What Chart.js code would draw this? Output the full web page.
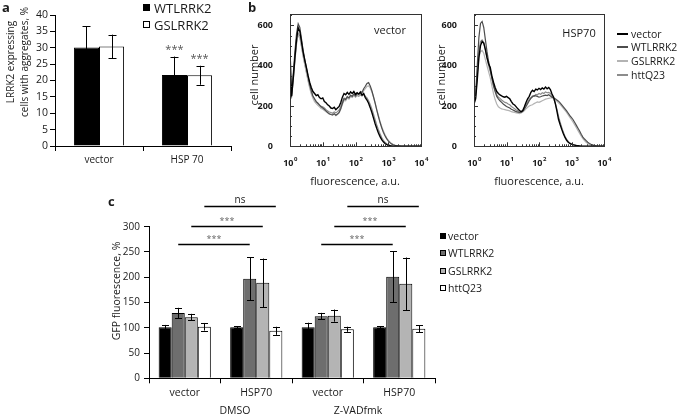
<!DOCTYPE html>
<html>
<head>
<meta charset="utf-8">
<script src="https://cdn.jsdelivr.net/npm/chart.js@4/dist/chart.umd.min.js"></script>
<style>
  html, body { margin: 0; padding: 0; background: #fff; }
  #fig { position: relative; width: 685px; height: 417px; overflow: hidden; font-family: 'Open Sans', sans-serif; color: #1a1a1a; }
  canvas { position: absolute; }
  .t { position: absolute; white-space: nowrap; line-height: 1; }
  .c { transform: translate(-50%, -50%); }
  .r { transform: translate(-50%, -50%) rotate(-90deg); }
  .ml { transform: translate(0, -50%); }
  .sq { position: absolute; box-sizing: border-box; border: 1px solid #000; }
  .ln { position: absolute; height: 2px; width: 11px; }
</style>
</head>
<body>
<div id="fig">
  <canvas id="chartA" width="240" height="175" style="left:0;top:0"></canvas>
  <canvas id="chartB1" width="192" height="190" style="left:240px;top:0"></canvas>
  <canvas id="chartB2" width="192" height="190" style="left:425px;top:0"></canvas>
  <canvas id="chartC" width="345" height="227" style="left:95px;top:190px"></canvas>

  <!-- panel a -->
  <div class="t" style="left:2px;top:1px;font-weight:bold;font-size:13px">a</div>
  <div class="t r" style="left:10px;top:62px;font-size:10px">LRRK2 expressing</div>
  <div class="t r" style="left:24px;top:62px;font-size:10px">cells with aggregates, %</div>
  <div class="sq" style="left:143px;top:4px;width:7px;height:7px;background:#000"></div>
  <div class="t ml" style="left:154px;top:8px;font-size:13px">WTLRRK2</div>
  <div class="sq" style="left:143px;top:21px;width:7px;height:7px;background:#fff"></div>
  <div class="t ml" style="left:154px;top:25px;font-size:13px">GSLRRK2</div>

  <!-- panel b -->
  <div class="t" style="left:248px;top:1px;font-weight:bold;font-size:13px">b</div>
  <div class="t r" style="left:253px;top:75px;font-size:11px">cell number</div>
  <div class="t r" style="left:440px;top:75px;font-size:11px">cell number</div>
  <div class="t c" style="left:355px;top:180px;font-size:11px">fluorescence, a.u.</div>
  <div class="t c" style="left:539px;top:180px;font-size:11px">fluorescence, a.u.</div>
  <div class="t c" style="left:390px;top:29px;font-size:11px">vector</div>
  <div class="t c" style="left:579px;top:32px;font-size:11px">HSP70</div>
  <div class="ln" style="left:617px;top:33px;background:#000"></div>
  <div class="t ml" style="left:631px;top:34px;font-size:10.5px">vector</div>
  <div class="ln" style="left:617px;top:46px;background:#4d4d4d"></div>
  <div class="t ml" style="left:631px;top:47px;font-size:10.5px">WTLRRK2</div>
  <div class="ln" style="left:617px;top:60px;background:#b3b3b3"></div>
  <div class="t ml" style="left:631px;top:61px;font-size:10.5px">GSLRRK2</div>
  <div class="ln" style="left:617px;top:74px;background:#8c8c8c"></div>
  <div class="t ml" style="left:631px;top:75px;font-size:10.5px">httQ23</div>

  <!-- panel c -->
  <div class="t" style="left:108px;top:195px;font-weight:bold;font-size:13px">c</div>
  <div class="t r" style="left:116px;top:291px;font-size:10.5px">GFP fluorescence, %</div>
  <div class="t c" style="left:235px;top:410px;font-size:10.5px">DMSO</div>
  <div class="t c" style="left:358px;top:410px;font-size:10.5px">Z-VADfmk</div>
  <div class="sq" style="left:440px;top:233px;width:6px;height:6px;background:#000"></div>
  <div class="t ml" style="left:448px;top:236px;font-size:10.5px">vector</div>
  <div class="sq" style="left:440px;top:250px;width:6px;height:6px;background:#6e6e6e"></div>
  <div class="t ml" style="left:448px;top:253px;font-size:10.5px">WTLRRK2</div>
  <div class="sq" style="left:440px;top:268px;width:6px;height:6px;background:#b4b4b4"></div>
  <div class="t ml" style="left:448px;top:271px;font-size:10.5px">GSLRRK2</div>
  <div class="sq" style="left:440px;top:285px;width:6px;height:6px;background:#fff"></div>
  <div class="t ml" style="left:448px;top:288px;font-size:10.5px">httQ23</div>
</div>

<script>
// ---------- panel a: aggregates ----------
var A_LABELS = ['vector', 'HSP 70'];
var A_WT = [30.1, 21.7];
var A_WT_ERR = [6.5, 5.6];
var A_GS = [30.4, 21.6];
var A_GS_ERR = [3.6, 2.9];
var A_STARS = ['', '***'];

// ---------- panel b: flow histograms (x in log10 units) ----------
var B_LOG = [0.00, 0.05, 0.10, 0.15, 0.20, 0.25, 0.30, 0.35, 0.40, 0.45,
             0.50, 0.55, 0.60, 0.65, 0.70, 0.75, 0.80, 0.85, 0.90, 0.95,
             1.00, 1.05, 1.10, 1.15, 1.20, 1.25, 1.30, 1.35, 1.40, 1.45,
             1.50, 1.55, 1.60, 1.65, 1.70, 1.75, 1.80, 1.85, 1.90, 1.95,
             2.00, 2.05, 2.10, 2.15, 2.20, 2.25, 2.30, 2.35, 2.40, 2.45,
             2.50, 2.55, 2.60, 2.65, 2.70, 2.75, 2.80, 2.85, 2.90, 2.95,
             3.00, 3.05, 3.10, 3.15, 3.20, 3.25, 3.30, 3.35, 3.40, 3.45,
             3.50, 3.55, 3.60, 3.65, 3.70, 3.75, 3.80, 3.85, 3.90, 3.95, 4.00];

var VEC_vector = [470, 250, 340, 440, 530, 588, 572, 520, 468, 428,
                  392, 352, 318, 292, 272, 262, 252, 256, 242, 236,
                  240, 222, 216, 206, 200, 190, 188, 194, 182, 190,
                  198, 218, 244, 262, 256, 268, 258, 270, 262, 272,
                  258, 266, 260, 268, 254, 262, 242, 230, 214, 192,
                  168, 140, 112, 88, 66, 48, 33, 22, 14, 9,
                  5, 3, 1, 0, 0, 0, 0, 0, 0, 0,
                  0, 0, 0, 0, 0, 0, 0, 0, 0, 0, 0];
var VEC_wt = [230, 260, 360, 470, 560, 608, 590, 535, 478, 432,
              390, 348, 306, 276, 250, 236, 222, 214, 204, 196,
              190, 184, 176, 168, 162, 158, 156, 162, 154, 160,
              168, 188, 214, 236, 232, 246, 240, 254, 248, 260,
              250, 262, 258, 272, 268, 286, 298, 312, 316, 300,
              276, 246, 214, 180, 148, 118, 92, 70, 52, 38,
              27, 18, 12, 8, 5, 3, 2, 1, 0, 0,
              0, 0, 0, 0, 0, 0, 0, 0, 0, 0, 0];
var VEC_gs = [235, 255, 340, 440, 520, 552, 540, 495, 448, 405,
              365, 325, 290, 260, 238, 222, 212, 204, 196, 188,
              184, 178, 172, 166, 160, 158, 155, 160, 152, 158,
              166, 184, 208, 228, 226, 240, 234, 246, 242, 252,
              244, 256, 252, 264, 262, 276, 286, 298, 300, 290,
              270, 244, 214, 182, 152, 124, 98, 76, 58, 42,
              30, 21, 14, 9, 6, 4, 2, 1, 0, 0,
              0, 0, 0, 0, 0, 0, 0, 0, 0, 0, 0];
var VEC_htt = [230, 245, 330, 425, 510, 560, 548, 500, 452, 410,
               372, 334, 298, 268, 246, 232, 222, 214, 206, 198,
               196, 190, 182, 176, 170, 168, 164, 170, 166, 172,
               180, 198, 222, 240, 236, 248, 240, 252, 246, 256,
               244, 252, 248, 256, 250, 258, 248, 240, 226, 208,
               186, 160, 132, 106, 82, 62, 44, 30, 20, 13,
               8, 5, 3, 1, 0, 0, 0, 0, 0, 0,
               0, 0, 0, 0, 0, 0, 0, 0, 0, 0, 0];

var HSP_vector = [210, 235, 330, 440, 500, 520, 512, 480, 440, 410,
                  392, 350, 318, 292, 272, 262, 255, 250, 246, 244,
                  248, 242, 236, 222, 210, 205, 196, 186, 178, 172,
                  178, 196, 218, 236, 248, 268, 278, 272, 284, 280,
                  288, 282, 290, 284, 294, 286, 292, 282, 260, 244,
                  214, 176, 134, 108, 84, 62, 44, 30, 20, 14,
                  11, 8, 6, 4, 3, 2, 1, 0, 0, 0,
                  0, 0, 0, 0, 0, 0, 0, 0, 0, 0, 0];
var HSP_wt = [220, 260, 400, 540, 610, 620, 590, 530, 470, 420,
              380, 340, 300, 272, 248, 236, 226, 218, 210, 204,
              198, 194, 190, 184, 180, 176, 172, 170, 168, 170,
              174, 184, 198, 212, 226, 238, 246, 252, 250, 248,
              244, 246, 250, 252, 254, 252, 256, 250, 244, 240,
              236, 230, 224, 216, 206, 196, 186, 176, 164, 152,
              142, 132, 118, 104, 90, 76, 60, 46, 36, 28,
              20, 14, 10, 7, 4, 2, 1, 0, 0, 0, 0];
var HSP_gs = [215, 240, 350, 440, 470, 476, 462, 430, 400, 370,
              340, 300, 262, 232, 210, 196, 190, 186, 184, 182,
              180, 178, 176, 172, 170, 168, 166, 164, 162, 166,
              170, 178, 186, 194, 200, 204, 206, 212, 216, 220,
              218, 222, 226, 230, 234, 236, 238, 240, 242, 240,
              232, 224, 216, 208, 198, 188, 178, 168, 156, 144,
              132, 120, 106, 92, 78, 64, 50, 38, 28, 20,
              14, 9, 6, 4, 2, 1, 0, 0, 0, 0, 0];
var HSP_htt = [225, 250, 360, 470, 520, 528, 515, 480, 440, 400,
               372, 336, 302, 278, 256, 244, 238, 230, 224, 218,
               216, 210, 206, 198, 192, 186, 180, 176, 170, 172,
               176, 190, 206, 220, 234, 242, 250, 248, 258, 256,
               262, 258, 266, 262, 270, 266, 268, 262, 250, 238,
               214, 184, 150, 120, 94, 70, 50, 35, 24, 16,
               11, 7, 5, 3, 2, 1, 0, 0, 0, 0,
               0, 0, 0, 0, 0, 0, 0, 0, 0, 0, 0];

var B_YTICKS = [0, 200, 400, 600];
var B_XDECADES = [0, 1, 2, 3, 4];

// ---------- panel c: GFP fluorescence ----------
var C_LABELS = ['vector', 'HSP70', 'vector', 'HSP70'];
var C_VECTOR = [101, 101, 101, 101];
var C_VECTOR_ERR = [4.6, 2, 9, 2];
var C_WT = [129, 197, 123, 201];
var C_WT_ERR = [10.5, 43, 6.5, 50];
var C_GS = [121, 189, 124, 187];
var C_GS_ERR = [6.6, 48, 12, 52];
var C_HTT = [102, 94, 97, 98];
var C_HTT_ERR = [7.5, 8, 5, 7];
var C_SIG_LEVEL = [266, 301, 341];   // bracket heights, % units
var C_SIG_TEXT = ['***', '***', 'ns'];
var C_SIG_DATASET = [1, 2, 3];       // which bar of each group is joined

var FONT = "'Open Sans', sans-serif";
var INK = '#1a1a1a';
Chart.defaults.font.family = FONT;
Chart.defaults.color = INK;
Chart.defaults.plugins.legend.display = false;
Chart.defaults.plugins.tooltip.enabled = false;
Chart.defaults.animation = false;

function fixWidth(w) { return function (s) { s.width = w; }; }
function fixHeight(h) { return function (s) { s.height = h; }; }

// -- error bars from dataset.errors --
var errorBars = {
  id: 'errorBars',
  afterDatasetsDraw: function (chart) {
    var ctx = chart.ctx, y = chart.scales.y;
    ctx.save();
    ctx.strokeStyle = '#000';
    ctx.lineWidth = 1;
    chart.data.datasets.forEach(function (ds, i) {
      if (!ds.errors) return;
      chart.getDatasetMeta(i).data.forEach(function (bar, j) {
        var v = ds.data[j], e = ds.errors[j];
        var x = Math.round(bar.x) + 0.5;
        var top = y.getPixelForValue(v + e), bot = y.getPixelForValue(v - e);
        var cap = ds.capWidth || 3.5;
        ctx.beginPath();
        ctx.moveTo(x, top); ctx.lineTo(x, bot);
        ctx.moveTo(x - cap, Math.round(top) + 0.5); ctx.lineTo(x + cap, Math.round(top) + 0.5);
        ctx.moveTo(x - cap, Math.round(bot) + 0.5); ctx.lineTo(x + cap, Math.round(bot) + 0.5);
        ctx.stroke();
      });
    });
    ctx.restore();
  }
};

// -- stars over the HSP 70 bars in panel a --
var starMarks = {
  id: 'starMarks',
  afterDatasetsDraw: function (chart) {
    var ctx = chart.ctx, y = chart.scales.y;
    ctx.save();
    ctx.fillStyle = '#555';
    ctx.font = '11px ' + FONT;
    ctx.textAlign = 'center';
    ctx.textBaseline = 'middle';
    chart.data.datasets.forEach(function (ds, i) {
      chart.getDatasetMeta(i).data.forEach(function (bar, j) {
        if (!A_STARS[j]) return;
        var top = y.getPixelForValue(ds.data[j] + ds.errors[j]);
        ctx.fillText(A_STARS[j], bar.x, top - 7);
      });
    });
    ctx.restore();
  }
};

// -- significance brackets in panel c --
var brackets = {
  id: 'brackets',
  afterDatasetsDraw: function (chart) {
    var ctx = chart.ctx, y = chart.scales.y;
    ctx.save();
    C_SIG_DATASET.forEach(function (d, k) {
      var bars = chart.getDatasetMeta(d).data;
      var py = Math.round(y.getPixelForValue(C_SIG_LEVEL[k])) + 0.5;
      [[0, 1], [2, 3]].forEach(function (pair) {
        var x0 = bars[pair[0]].x, x1 = bars[pair[1]].x;
        ctx.strokeStyle = '#000';
        ctx.lineWidth = 1.3;
        ctx.beginPath();
        ctx.moveTo(x0, py); ctx.lineTo(x1, py);
        ctx.stroke();
        ctx.fillStyle = C_SIG_TEXT[k] === 'ns' ? INK : '#666';
        ctx.font = (C_SIG_TEXT[k] === 'ns' ? '10px ' : '9px ') + FONT;
        ctx.textAlign = 'center';
        ctx.textBaseline = 'bottom';
        ctx.fillText(C_SIG_TEXT[k], (x0 + x1) / 2, py - 1);
      });
    });
    ctx.restore();
  }
};

// -- box, inward ticks and 10^n labels for the histograms --
var flowFrame = {
  id: 'flowFrame',
  afterDraw: function (chart) {
    var ctx = chart.ctx, a = chart.chartArea, x = chart.scales.x, y = chart.scales.y;
    ctx.save();
    ctx.strokeStyle = '#333';
    ctx.lineWidth = 1;
    ctx.strokeRect(Math.round(a.left) + 0.5, Math.round(a.top) + 0.5,
                   Math.round(a.right - a.left), Math.round(a.bottom - a.top));
    ctx.beginPath();
    for (var v = 0; v <= 650; v += 50) {
      var py = Math.round(y.getPixelForValue(v)) + 0.5;
      var len = (v % 200 === 0) ? 4 : 2;
      ctx.moveTo(a.left, py); ctx.lineTo(a.left + len, py);
    }
    B_XDECADES.forEach(function (k) {
      for (var m = 1; m < 10; m++) {
        var val = Math.pow(10, k) * m;
        if (val > 10000) break;
        var px = Math.round(x.getPixelForValue(val)) + 0.5;
        var len = m === 1 ? 4 : 2;
        ctx.moveTo(px, a.bottom); ctx.lineTo(px, a.bottom - len);
      }
    });
    ctx.stroke();
    ctx.fillStyle = INK;
    ctx.textBaseline = 'middle';
    B_XDECADES.forEach(function (k) {
      var px = x.getPixelForValue(Math.pow(10, k));
      ctx.font = 'bold 9px ' + FONT;
      var w1 = ctx.measureText('10').width;
      ctx.font = 'bold 6px ' + FONT;
      var w2 = ctx.measureText(String(k)).width;
      var sx = px - (w1 + w2) / 2;
      ctx.font = 'bold 9px ' + FONT;
      ctx.textAlign = 'left';
      ctx.fillText('10', sx, 163);
      ctx.font = 'bold 6px ' + FONT;
      ctx.fillText(String(k), sx + w1 + 0.5, 159);
    });
    ctx.restore();
  }
};

// ---------- panel a ----------
new Chart(document.getElementById('chartA'), {
  type: 'bar',
  data: {
    labels: A_LABELS,
    datasets: [
      { data: A_WT, errors: A_WT_ERR, backgroundColor: '#000', borderColor: '#000', borderWidth: 1, capWidth: 4 },
      { data: A_GS, errors: A_GS_ERR, backgroundColor: '#fff', borderColor: '#000', borderWidth: 1, capWidth: 4 }
    ]
  },
  options: {
    responsive: false,
    layout: { padding: { top: 15, right: 9, left: 0, bottom: 0 } },
    datasets: { bar: { categoryPercentage: 0.57, barPercentage: 1.0 } },
    scales: {
      x: {
        afterFit: fixHeight(29),
        grid: { drawOnChartArea: false, tickLength: 5, color: '#000', offset: true },
        border: { color: '#000' },
        ticks: { font: { size: 10 }, padding: 3 }
      },
      y: {
        min: 0, max: 40,
        afterFit: fixWidth(55),
        grid: { drawOnChartArea: false, tickLength: 5, color: '#000' },
        border: { color: '#000' },
        ticks: { stepSize: 5, font: { size: 10.5 }, padding: 2 }
      }
    }
  },
  plugins: [errorBars, starMarks]
});

// ---------- panel b ----------
function flowChart(id, series, yAxisWidth, padRight) {
  var colors = ['#000', '#4d4d4d', '#b3b3b3', '#8c8c8c'];
  var widths = [1.4, 1.2, 1.2, 1.2];
  // first dataset is drawn last, so black sits on top
  var datasets = series.map(function (s, i) {
    return {
      data: B_LOG.map(function (l, j) { return { x: Math.pow(10, l), y: s[j] }; }),
      borderColor: colors[i], borderWidth: widths[i],
      pointRadius: 0, tension: 0, fill: false
    };
  });
  new Chart(document.getElementById(id), {
    type: 'line',
    data: { datasets: datasets },
    options: {
      responsive: false,
      layout: { padding: { top: 13.7, right: padRight, left: 0, bottom: 0 } },
      scales: {
        x: {
          type: 'logarithmic', min: 1, max: 10000,
          afterFit: fixHeight(43.7),
          grid: { display: false },
          border: { display: false },
          ticks: { display: false }
        },
        y: {
          min: 0, max: 655,
          afterFit: fixWidth(yAxisWidth),
          grid: { display: false },
          border: { display: false },
          afterBuildTicks: function (s) { s.ticks = B_YTICKS.map(function (v) { return { value: v }; }); },
          ticks: { font: { size: 9, weight: 'bold' }, padding: 9 }
        }
      }
    },
    plugins: [flowFrame]
  });
}
flowChart('chartB1', [VEC_vector, VEC_wt, VEC_gs, VEC_htt], 50, 11);
flowChart('chartB2', [HSP_vector, HSP_wt, HSP_gs, HSP_htt], 49, 13);

// ---------- panel c ----------
new Chart(document.getElementById('chartC'), {
  type: 'bar',
  data: {
    labels: C_LABELS,
    datasets: [
      { data: C_VECTOR, errors: C_VECTOR_ERR, backgroundColor: '#000', borderColor: '#000', borderWidth: 1 },
      { data: C_WT, errors: C_WT_ERR, backgroundColor: '#6e6e6e', borderColor: '#000', borderWidth: 1 },
      { data: C_GS, errors: C_GS_ERR, backgroundColor: '#b4b4b4', borderColor: '#000', borderWidth: 1 },
      { data: C_HTT, errors: C_HTT_ERR, backgroundColor: '#fff', borderColor: '#000', borderWidth: 1 }
    ]
  },
  options: {
    responsive: false,
    layout: { padding: { top: 36.7, right: 5, left: 0, bottom: 0 } },
    datasets: { bar: { categoryPercentage: 0.73, barPercentage: 1.0 } },
    scales: {
      x: {
        afterFit: fixHeight(38.7),
        grid: { drawOnChartArea: false, tickLength: 5, color: '#000', offset: true },
        border: { color: '#000' },
        ticks: { font: { size: 10.5 }, padding: 3 }
      },
      y: {
        min: 0, max: 300,
        afterFit: fixWidth(54),
        grid: { drawOnChartArea: false, tickLength: 5, color: '#000' },
        border: { color: '#000' },
        ticks: { stepSize: 50, font: { size: 10 }, padding: 4 }
      }
    }
  },
  plugins: [errorBars, brackets]
});
</script>
</body>
</html>
